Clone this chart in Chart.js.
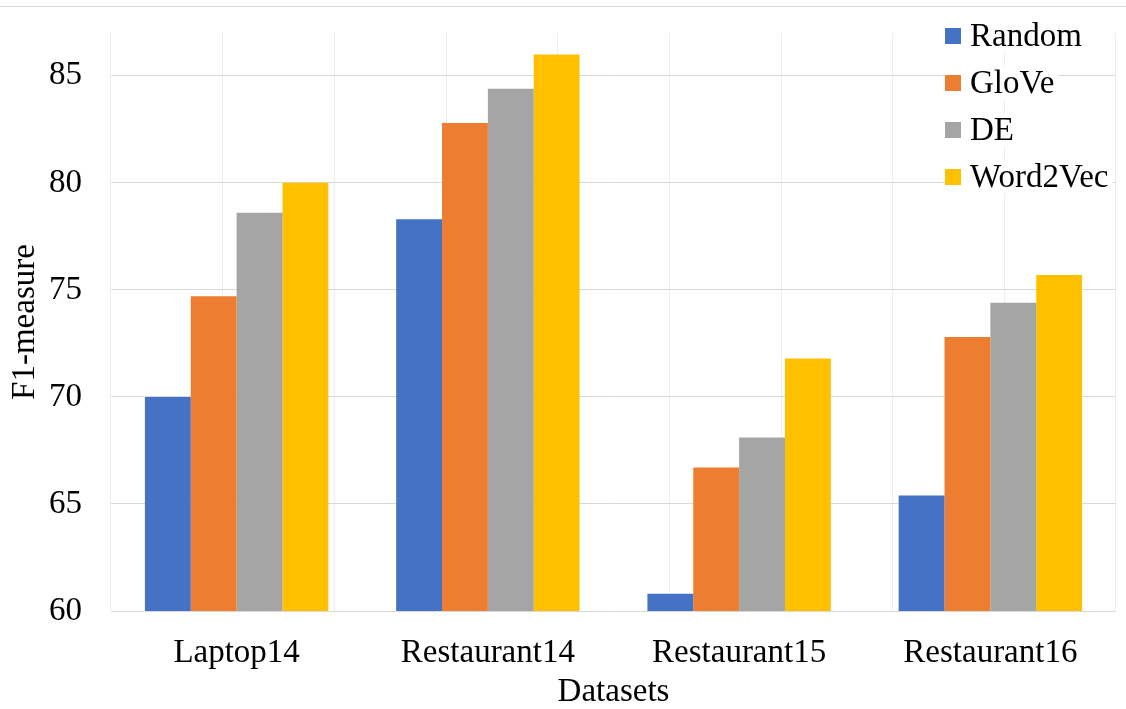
<!DOCTYPE html>
<html>
<head>
<meta charset="utf-8">
<script src="https://cdn.jsdelivr.net/npm/chart.js@4.4.1/dist/chart.umd.min.js"></script>
<style>
    body { margin: 0; background: #fff; }
    #wrap { position: relative; width: 1126px; height: 709px; }
    #topLine { position: absolute; left: 0; top: 6px; width: 1126px; height: 1px; background: #d9d9d9; }
</style>
</head>
<body>
<div id="wrap">
    <div id="topLine"></div>
    <canvas id="chart" width="1126" height="709"></canvas>
</div>
<script>
const categories = ["Laptop14", "Restaurant14", "Restaurant15", "Restaurant16"];
const seriesNames = ["Random", "GloVe", "DE", "Word2Vec"];
const randomVals = [70.0, 78.3, 60.8, 65.4];
const gloveVals = [74.7, 82.8, 66.7, 72.8];
const deVals = [78.6, 84.4, 68.1, 74.4];
const word2vecVals = [80.0, 86.0, 71.8, 75.7];
const colors = ["#4472C4", "#ED7D31", "#A5A5A5", "#FFC000"];

const FONT = "'Liberation Serif', 'Times New Roman', serif";

/* Legend box drawn inside the plot, top right */
const boxLegend = {
    id: "boxLegend",
    afterDraw(chart, args, opts) {
        const ctx = chart.ctx;
        ctx.save();
        ctx.font = "33px " + FONT;
        ctx.textBaseline = "middle";
        chart.data.datasets.forEach((ds, i) => {
            let y = opts.y + i * opts.step;
            let w = ctx.measureText(ds.label).width;
            ctx.fillStyle = "#fff";
            ctx.fillRect(opts.x, y - 16, opts.textGap + w + 4, 32);
            ctx.fillStyle = ds.backgroundColor;
            ctx.fillRect(opts.x, y - 8, 16, 16);
            ctx.fillStyle = "#000";
            ctx.fillText(ds.label, opts.x + opts.textGap, y + 1);
        });
        ctx.restore();
    }
};

const datasets = [randomVals, gloveVals, deVals, word2vecVals].map((vals, i) => ({
    label: seriesNames[i],
    data: vals,
    backgroundColor: colors[i],
    categoryPercentage: 0.73,
    barPercentage: 1.0,
    xAxisID: "x"
}));

new Chart(document.getElementById("chart"), {
    type: "bar",
    data: { labels: categories, datasets: datasets },
    plugins: [boxLegend],
    options: {
        responsive: false,
        animation: false,
        layout: { padding: { top: 33, right: 10, left: 0, bottom: 0 } },
        plugins: {
            legend: { display: false },
            tooltip: { enabled: false },
            boxLegend: { x: 945, y: 36, step: 47, textGap: 25 }
        },
        scales: {
            x: {
                grid: { display: false },
                border: { display: false },
                ticks: { color: "#000", font: { family: FONT, size: 33 }, padding: 15 },
                title: { display: true, text: "Datasets", color: "#000", font: { family: FONT, size: 33, lineHeight: 1.0 }, padding: { top: 0, bottom: 0 } },
                afterFit(scale) { scale.height = 98; }
            },
            xGrid: {
                type: "linear",
                position: "bottom",
                min: 0,
                max: 8,
                display: true,
                ticks: { display: false, stepSize: 1 },
                grid: { color: "#eeeeee", drawTicks: false },
                border: { display: false },
                afterFit(scale) { scale.height = 0; }
            },
            y: {
                min: 60,
                max: 87,
                ticks: {
                    stepSize: 5,
                    includeBounds: false,
                    color: "#000",
                    padding: 29,
                    font: { family: FONT, size: 33 }
                },
                grid: { color: "#d9d9d9", drawTicks: false },
                border: { display: false },
                title: { display: true, text: "F1-measure", color: "#000", font: { family: FONT, size: 33 }, padding: { top: 6, bottom: 0 } },
                afterFit(scale) {
                    scale.width = 111;
                    scale.paddingTop = 0;
                    scale.paddingBottom = 0;
                }
            }
        }
    }
});
</script>
</body>
</html>
